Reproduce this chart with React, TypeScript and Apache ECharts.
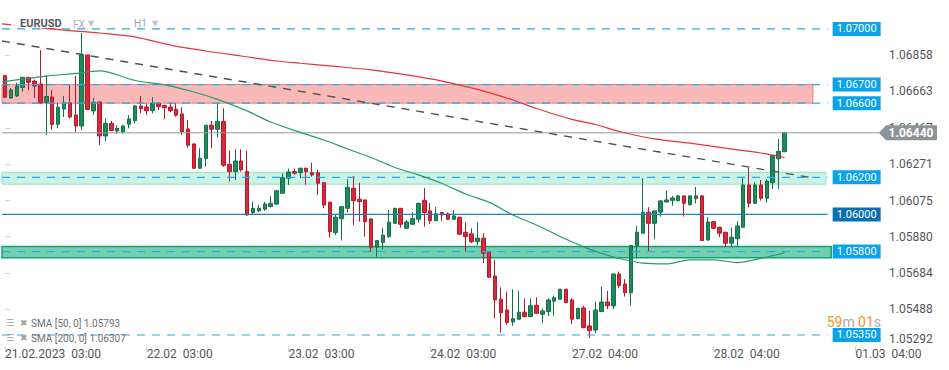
import React, { useEffect, useRef } from "react";
import * as echarts from "echarts";

// ---------- data ----------
const categoryCount = 149;
const categories = Array.from({ length: categoryCount }, (_, i) => `h${i}`);
const xTickLabels = [
  "21.02.2023  03:00",
  "22.02  03:00",
  "23.02  03:00",
  "24.02  03:00",
  "27.02  04:00",
  "28.02  04:00",
  "01.03  04:00",
];
const xTickStep = 24;

const yTickValues = [1.05292, 1.05488, 1.05684, 1.0588, 1.06075, 1.06271, 1.06467, 1.06663, 1.06858];
const yMin = 1.05288;
const yMax = 1.07129;

// [open, close, low, high]
const ohlc: number[][] = [
  [1.06748, 1.06632, 1.06628, 1.06752],
  [1.06628, 1.06671, 1.06622, 1.06682],
  [1.06639, 1.06692, 1.06633, 1.06709],
  [1.06685, 1.06739, 1.06662, 1.06741],
  [1.06739, 1.06712, 1.06671, 1.06741],
  [1.06719, 1.06692, 1.06628, 1.06727],
  [1.06703, 1.06601, 1.06598, 1.06886],
  [1.06604, 1.06636, 1.06428, 1.06752],
  [1.06633, 1.06485, 1.06455, 1.06671],
  [1.06486, 1.06578, 1.06464, 1.06602],
  [1.06568, 1.06601, 1.06525, 1.06639],
  [1.06601, 1.06525, 1.06517, 1.06698],
  [1.06536, 1.06477, 1.06445, 1.06746],
  [1.06477, 1.0686, 1.06455, 1.06978],
  [1.0686, 1.06566, 1.06563, 1.0686],
  [1.06558, 1.06604, 1.06536, 1.06628],
  [1.06606, 1.06423, 1.06374, 1.06609],
  [1.06423, 1.06491, 1.06396, 1.06518],
  [1.06491, 1.06452, 1.0645, 1.06504],
  [1.0645, 1.06464, 1.06435, 1.06481],
  [1.06445, 1.06477, 1.06436, 1.06482],
  [1.06486, 1.06515, 1.06464, 1.06536],
  [1.06505, 1.06585, 1.06491, 1.0659],
  [1.06585, 1.0657, 1.06545, 1.06639],
  [1.06579, 1.06559, 1.06536, 1.06599],
  [1.06559, 1.06599, 1.06545, 1.06632],
  [1.06599, 1.06581, 1.06563, 1.06605],
  [1.06588, 1.06575, 1.06513, 1.0659],
  [1.06579, 1.06559, 1.06551, 1.06602],
  [1.06567, 1.06535, 1.06527, 1.06599],
  [1.06542, 1.06446, 1.06428, 1.06578],
  [1.06461, 1.06373, 1.0636, 1.06509],
  [1.0638, 1.06249, 1.06245, 1.06382],
  [1.06249, 1.06303, 1.06248, 1.06357],
  [1.06301, 1.06481, 1.06257, 1.06482],
  [1.06481, 1.06459, 1.06357, 1.06504],
  [1.06459, 1.06502, 1.06416, 1.06599],
  [1.06502, 1.06265, 1.06257, 1.06572],
  [1.0627, 1.06231, 1.06177, 1.06344],
  [1.06231, 1.06288, 1.06186, 1.06351],
  [1.06288, 1.0624, 1.06231, 1.06351],
  [1.06231, 1.05997, 1.05992, 1.06344],
  [1.0601, 1.06033, 1.05997, 1.06069],
  [1.0602, 1.06033, 1.06013, 1.06051],
  [1.06028, 1.06056, 1.0602, 1.06069],
  [1.06042, 1.0606, 1.06039, 1.061],
  [1.06056, 1.06127, 1.06051, 1.06132],
  [1.06114, 1.06198, 1.06112, 1.06222],
  [1.06195, 1.06229, 1.06159, 1.06247],
  [1.06231, 1.06222, 1.06213, 1.06247],
  [1.06225, 1.06249, 1.06195, 1.06252],
  [1.06249, 1.06231, 1.06159, 1.06252],
  [1.06225, 1.06213, 1.06204, 1.06279],
  [1.06225, 1.06168, 1.06105, 1.0624],
  [1.06171, 1.06051, 1.06033, 1.06173],
  [1.06066, 1.05907, 1.05875, 1.06068],
  [1.05902, 1.05985, 1.05889, 1.05997],
  [1.05977, 1.06042, 1.05859, 1.06044],
  [1.06033, 1.06146, 1.0601, 1.0619],
  [1.06141, 1.06074, 1.05943, 1.06207],
  [1.06082, 1.06069, 1.05961, 1.06171],
  [1.06078, 1.05961, 1.0588, 1.0608],
  [1.05976, 1.05823, 1.05799, 1.05979],
  [1.05823, 1.05859, 1.05772, 1.05862],
  [1.05848, 1.05888, 1.05812, 1.05929],
  [1.0588, 1.05958, 1.05875, 1.06024],
  [1.05952, 1.06033, 1.0595, 1.06035],
  [1.06033, 1.05947, 1.05929, 1.06035],
  [1.05925, 1.05959, 1.05922, 1.0597],
  [1.05947, 1.05977, 1.05943, 1.06012],
  [1.05974, 1.0606, 1.05956, 1.06063],
  [1.06076, 1.0601, 1.05934, 1.06143],
  [1.06019, 1.05966, 1.05949, 1.0606],
  [1.05966, 1.06003, 1.05964, 1.06042],
  [1.0601, 1.05997, 1.05966, 1.06013],
  [1.06003, 1.05974, 1.0597, 1.0601],
  [1.05974, 1.05992, 1.0597, 1.06024],
  [1.05985, 1.05893, 1.05889, 1.05987],
  [1.05902, 1.0588, 1.05799, 1.05958],
  [1.05895, 1.05853, 1.05845, 1.05925],
  [1.05853, 1.05872, 1.05835, 1.05958],
  [1.05872, 1.05791, 1.05737, 1.05899],
  [1.05799, 1.05661, 1.05658, 1.05801],
  [1.05668, 1.05539, 1.0544, 1.05755],
  [1.05543, 1.05471, 1.05363, 1.05607],
  [1.05485, 1.05417, 1.05404, 1.05584],
  [1.0542, 1.05438, 1.05399, 1.05597],
  [1.05435, 1.05473, 1.05431, 1.05588],
  [1.05473, 1.05449, 1.05446, 1.05548],
  [1.05449, 1.05508, 1.05446, 1.05548],
  [1.0551, 1.05467, 1.05464, 1.05554],
  [1.05462, 1.0548, 1.05413, 1.05494],
  [1.05476, 1.05539, 1.05453, 1.05548],
  [1.05532, 1.05551, 1.05453, 1.05561],
  [1.05543, 1.05597, 1.05541, 1.05598],
  [1.05597, 1.05524, 1.05523, 1.05598],
  [1.05539, 1.05435, 1.05408, 1.05548],
  [1.05438, 1.05494, 1.05435, 1.05496],
  [1.05496, 1.0539, 1.05386, 1.05508],
  [1.05399, 1.05374, 1.05333, 1.0548],
  [1.05377, 1.05485, 1.05359, 1.0553],
  [1.05476, 1.05528, 1.05474, 1.05611],
  [1.05528, 1.05508, 1.0549, 1.05588],
  [1.05507, 1.05679, 1.05489, 1.05681],
  [1.05679, 1.05616, 1.05602, 1.05692],
  [1.05625, 1.05578, 1.05557, 1.05651],
  [1.05578, 1.05832, 1.05507, 1.05835],
  [1.05832, 1.05904, 1.05764, 1.05938],
  [1.05899, 1.06012, 1.05897, 1.06195],
  [1.06012, 1.05952, 1.05799, 1.06039],
  [1.05952, 1.06019, 1.05866, 1.06021],
  [1.06012, 1.06073, 1.05988, 1.06078],
  [1.06067, 1.06078, 1.06065, 1.06127],
  [1.06076, 1.06089, 1.06047, 1.061],
  [1.06074, 1.061, 1.06071, 1.06105],
  [1.061, 1.0606, 1.05988, 1.06103],
  [1.06053, 1.061, 1.06048, 1.06105],
  [1.06085, 1.061, 1.0606, 1.06148],
  [1.061, 1.05859, 1.05857, 1.06105],
  [1.05862, 1.05959, 1.05859, 1.05985],
  [1.05961, 1.05925, 1.05922, 1.05965],
  [1.05931, 1.05899, 1.05877, 1.05934],
  [1.05904, 1.05845, 1.05823, 1.05906],
  [1.05845, 1.05877, 1.05823, 1.05929],
  [1.05869, 1.05938, 1.05826, 1.05965],
  [1.05931, 1.06159, 1.05929, 1.06204],
  [1.06159, 1.0606, 1.06037, 1.06252],
  [1.0606, 1.06159, 1.06059, 1.06173],
  [1.06159, 1.06087, 1.06074, 1.06186],
  [1.06087, 1.0618, 1.06063, 1.0619],
  [1.06171, 1.06317, 1.06137, 1.06321],
  [1.063, 1.0634, 1.06137, 1.06407],
  [1.06338, 1.0644, 1.06336, 1.06445],
];

// SMA readings: [candle index, value]
const sma200: number[][] = [
  [-0.5, 1.07027], [10, 1.06994], [16, 1.06978], [22, 1.06957], [28, 1.06913], [34, 1.06881],
  [40, 1.06854], [46, 1.06827], [50, 1.06815], [56, 1.06798], [62, 1.06779], [68, 1.06752],
  [74, 1.06719], [80, 1.06674], [86, 1.06617], [90, 1.06571], [96, 1.06512], [100, 1.06485],
  [104, 1.06447], [110, 1.06407], [116, 1.06384], [122, 1.06357], [128, 1.06331], [132, 1.06307],
];
const sma50: number[][] = [
  [-0.5, 1.06715], [7, 1.06746], [12, 1.0676], [16, 1.06774], [22, 1.06722], [27, 1.06698],
  [32, 1.0666], [36, 1.0662], [41, 1.06558], [45, 1.06498], [50, 1.06442], [54, 1.06401],
  [58, 1.06353], [62, 1.06307], [66, 1.06253], [70, 1.06213], [74, 1.06167], [78, 1.0611],
  [82, 1.06065], [86, 1.05997], [90, 1.05943], [94, 1.05881], [98, 1.05825], [101, 1.0579],
  [104, 1.05763], [108, 1.05737], [112, 1.05733], [116, 1.05755], [120, 1.05755], [124, 1.0574],
  [128, 1.05763], [132, 1.05793],
];
const trendLine: number[][] = [[-0.5, 1.06935], [136.8, 1.06197]];

const dashedLevels = [1.07, 1.067, 1.066, 1.062, 1.058, 1.0535];
const solidLevels = [1.06];
const zoneBounds = [
  [1.066, 1.067],
  [1.06163, 1.06227],
  [1.05767, 1.05827],
];
const lastPrice = 1.0644;
const timerParts = ["59", "m", "01", "s"];

// ---------- component ----------
export default function App() {
  const ref = useRef<HTMLDivElement>(null);

  useEffect(() => {
    if (!ref.current) return;
    const chart = echarts.init(ref.current, undefined, { renderer: "svg" });
    const font = "Roboto";
    const levelStart = -0.5;
    const levelEnd = 139.3;

    const levelSeries = (v: number, solid: boolean) => ({
      type: "line",
      xAxisIndex: 1,
      data: [
        [levelStart, v],
        [levelEnd, v],
      ],
      symbol: "none",
      silent: true,
      z: 3,
      itemStyle: { color: solid ? "#1f7fc6" : "#29a8ea" },
      lineStyle: {
        color: solid ? "#1f7fc6" : "#29a8ea",
        width: solid ? 1.3 : 1.2,
        type: solid ? "solid" : [8, 7],
      },
      endLabel: {
        show: true,
        distance: 5,
        formatter: () => v.toFixed(5),
        color: "#ffffff",
        backgroundColor: solid ? "#0b6fb3" : "#0aa3ea",
        padding: [1, 4, 1, 4],
        fontSize: 11,
        lineHeight: 12,
        fontFamily: font,
      },
    });

    const zoneStyles = [
      { end: 136.8, color: "rgba(240,80,80,0.40)", borderColor: "#ee7a7a", borderWidth: 1 },
      { end: 139.0, color: "rgba(100,220,180,0.35)", borderColor: "#95e0c6", borderWidth: 1 },
      { end: 139.9, color: "rgba(0,170,110,0.55)", borderColor: "#14a070", borderWidth: 1.5 },
    ];
    const zones = zoneBounds.map((b, i) => [
      {
        coord: [-0.5, b[1]],
        itemStyle: {
          color: zoneStyles[i].color,
          borderColor: zoneStyles[i].borderColor,
          borderWidth: zoneStyles[i].borderWidth,
        },
      },
      { coord: [zoneStyles[i].end, b[0]] },
    ]);

    const isTick = (i: number) => i % xTickStep === 0;

    chart.setOption({
      animation: false,
      backgroundColor: "#ffffff",
      grid: { left: 2, right: 67, top: 5, bottom: 23.5 },
      xAxis: [
        {
          type: "category",
          data: categories,
          boundaryGap: true,
          axisLine: { show: false },
          splitLine: { show: false },
          axisTick: {
            show: true,
            alignWithLabel: true,
            interval: (i: number) => isTick(i),
            length: 5,
            lineStyle: { color: "#cfcfcf" },
          },
          axisLabel: {
            interval: (i: number) => isTick(i),
            formatter: (_v: string, i: number) => xTickLabels[Math.round(i / xTickStep)] ?? "",
            align: "left",
            margin: 1,
            color: "#555",
            fontSize: 12,
            fontFamily: font,
          },
        },
        { type: "value", min: -0.5, max: categoryCount - 0.5, show: false },
      ],
      yAxis: {
        type: "value",
        position: "right",
        min: yMin,
        max: yMax,
        axisLine: { show: false },
        splitLine: { show: false },
        axisTick: {
          show: true,
          customValues: yTickValues.slice(1),
          length: 5,
          lineStyle: { color: "#d4d4d4" },
        },
        axisLabel: {
          customValues: yTickValues,
          margin: 7,
          color: "#555",
          fontSize: 12,
          fontFamily: font,
          formatter: (v: number) =>
            Math.abs(v - yTickValues[0]) < 1e-9 ? `{low|${v.toFixed(5)}}` : v.toFixed(5),
          rich: {
            low: { color: "#555", fontSize: 12, fontFamily: font, padding: [0, 0, 13, 0] },
          },
        },
      },
      series: [
        {
          type: "candlestick",
          xAxisIndex: 0,
          data: ohlc,
          barWidth: 4,
          z: 2,
          itemStyle: {
            color: "#1d8b5b",
            color0: "#d8283a",
            borderColor: "#127148",
            borderColor0: "#b51a2b",
            borderWidth: 1,
          },
        },
        {
          type: "line",
          name: "priceLine",
          xAxisIndex: 1,
          data: [
            [-0.5, lastPrice],
            [categoryCount - 0.5, lastPrice],
          ],
          symbol: "none",
          silent: true,
          z: 3,
          itemStyle: { color: "#8e979c" },
          lineStyle: { color: "#8e979c", width: 1, type: "solid" },
        },
        ...dashedLevels.map((v) => levelSeries(v, false)),
        ...solidLevels.map((v) => levelSeries(v, true)),
        {
          type: "line",
          name: "trend",
          xAxisIndex: 1,
          data: trendLine,
          symbol: "none",
          z: 3,
          silent: true,
          itemStyle: { color: "#4d5257" },
          lineStyle: { color: "#4d5257", width: 1.4, type: [8, 7] },
        },
        {
          type: "line",
          name: "SMA200",
          xAxisIndex: 1,
          data: sma200,
          symbol: "none",
          smooth: 0.3,
          z: 3,
          silent: true,
          itemStyle: { color: "#e2363b" },
          lineStyle: { color: "#e2363b", width: 1.2 },
        },
        {
          type: "line",
          name: "SMA50",
          xAxisIndex: 1,
          data: sma50,
          symbol: "none",
          smooth: 0.3,
          z: 3,
          silent: true,
          itemStyle: { color: "#2b9a6b" },
          lineStyle: { color: "#2b9a6b", width: 1.2 },
        },
        {
          type: "line",
          name: "zones",
          xAxisIndex: 1,
          data: [],
          z: 6,
          silent: true,
          markArea: { silent: true, animation: false, data: zones },
        },
      ],
    });

    const py = chart.convertToPixel({ yAxisIndex: 0 }, lastPrice) as number;
    const s50 = sma50[sma50.length - 1][1].toFixed(5);
    const s200 = sma200[sma200.length - 1][1].toFixed(5);
    const legendText = { fill: "#6f6f6f", fontSize: 10, fontFamily: font, verticalAlign: "middle" };
    const iconText = { fill: "#a0a0a0", fontSize: 9, fontFamily: "DejaVu Sans", verticalAlign: "middle" };

    chart.setOption({
      graphic: [
        { type: "rect", z: 100, shape: { x: 11, y: 16, width: 92, height: 12 }, style: { fill: "rgba(255,255,255,0.85)" } },
        { type: "text", z: 101, x: 20, y: 23, style: { text: "EURUSD", fill: "#55595d", fontSize: 11, fontWeight: "bold", fontFamily: font, verticalAlign: "middle" } },
        { type: "text", z: 101, x: 73, y: 24, style: { text: "FX", fill: "#aab1b6", fontSize: 10, fontFamily: font, verticalAlign: "middle" } },
        { type: "text", z: 101, x: 88, y: 23, style: { text: "▼", fill: "#c0c4c7", fontSize: 8, fontFamily: "DejaVu Sans", verticalAlign: "middle" } },
        { type: "text", z: 101, x: 134, y: 23, style: { text: "H1", fill: "#9aa2a7", fontSize: 10, fontFamily: font, verticalAlign: "middle" } },
        { type: "text", z: 101, x: 152, y: 23, style: { text: "▼", fill: "#c0c4c7", fontSize: 8, fontFamily: "DejaVu Sans", verticalAlign: "middle" } },

        { type: "text", z: 101, x: 6, y: 323, style: { text: "☰", ...iconText } },
        { type: "text", z: 101, x: 20, y: 323, style: { text: "✖", ...iconText } },
        { type: "text", z: 101, x: 31, y: 323, style: { text: `SMA [50, 0] ${s50}`, ...legendText } },
        { type: "text", z: 101, x: 6, y: 338, style: { text: "☰", ...iconText } },
        { type: "text", z: 101, x: 20, y: 338, style: { text: "✖", ...iconText } },
        { type: "text", z: 101, x: 31, y: 338, style: { text: `SMA [200, 0] ${s200}`, ...legendText } },

        {
          type: "text",
          z: 101,
          x: 881,
          y: 322,
          style: {
            text: `{o|${timerParts[0]}}{g|${timerParts[1]}} {o|${timerParts[2]}}{g|${timerParts[3]}}`,
            align: "right",
            verticalAlign: "middle",
            rich: {
              o: { fill: "#f7941d", fontSize: 14, fontFamily: font },
              g: { fill: "#a9a9a9", fontSize: 14, fontFamily: font },
            },
          },
        },

        {
          type: "polygon",
          z: 110,
          shape: { points: [[879, py], [886, py - 7.5], [937, py - 7.5], [937, py + 7.5], [886, py + 7.5]] },
          style: { fill: "#8b9499" },
        },
        {
          type: "text",
          z: 111,
          x: 911,
          y: py,
          style: { text: lastPrice.toFixed(5), fill: "#ffffff", fontSize: 12, fontWeight: "bold", fontFamily: font, align: "center", verticalAlign: "middle" },
        },
      ],
    });

    return () => chart.dispose();
  }, []);

  return (
    <div
      ref={ref}
      style={{ position: "fixed", left: 0, top: 0, width: 949, height: 370, background: "#fff" }}
    />
  );
}
